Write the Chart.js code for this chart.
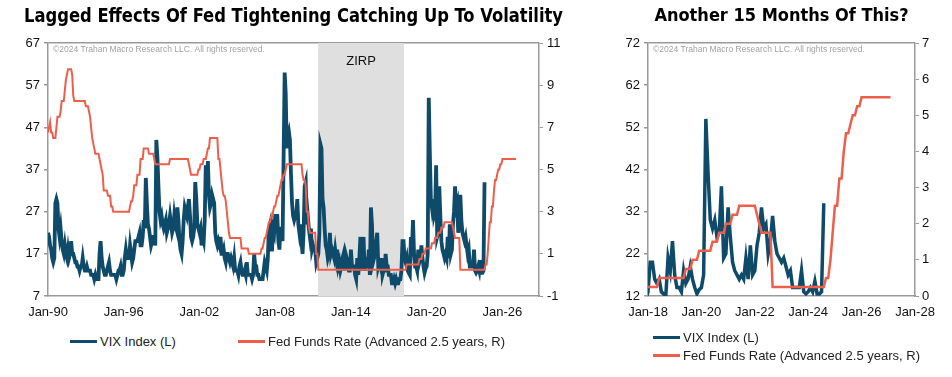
<!DOCTYPE html>
<html>
<head>
<meta charset="utf-8">
<script src="https://cdn.jsdelivr.net/npm/chart.js@4.4.1/dist/chart.umd.min.js"></script>
<style>
  body { margin: 0; background: #fff; }
  #wrap { position: relative; width: 952px; height: 377px; overflow: hidden; }
  canvas { position: absolute; top: 0; }
  .item { position: absolute; height: 16px; display: flex; align-items: center;
          font: 13px "Liberation Sans", Arial, sans-serif; color: #222; white-space: nowrap; }
  .swatch { display: inline-block; width: 27px; height: 3px; margin-right: 3px; }
</style>
</head>
<body>
<div id="wrap">
  <canvas id="left" width="567" height="330" style="left:0"></canvas>
  <canvas id="right" width="352" height="330" style="left:600px"></canvas>

  <div class="item" style="left:70px; top:333px"><span class="swatch" style="background:#0e4a69"></span>VIX Index (L)</div>
  <div class="item" style="left:238px; top:333px"><span class="swatch" style="background:#ee5e4b"></span>Fed Funds Rate (Advanced 2.5 years, R)</div>
  <div class="item" style="left:653px; top:329px"><span class="swatch" style="background:#0e4a69"></span>VIX Index (L)</div>
  <div class="item" style="left:653px; top:347px"><span class="swatch" style="background:#ee5e4b"></span>Fed Funds Rate (Advanced 2.5 years, R)</div>
</div>

<script>
// VIX index, monthly, Jan 1990 .. Aug 2024
const vixStart = 1990;
const vix1990s = [
  22, 21, 19, 18, 16, 15, 16, 29, 30, 29, 23, 21,
  23, 20, 18, 17, 19, 17, 16, 18, 16, 17, 20, 17,
  17, 16, 15, 15, 14, 14, 13, 14, 14, 16, 14, 13,
  13, 14, 13, 13, 13, 12, 12, 12, 11, 12, 11, 11,
  11, 17, 20, 16, 14, 13, 12, 12, 13, 14, 15, 13,
  12, 12, 12, 12, 12, 11, 12, 13, 13, 14, 12, 12,
  13, 16, 18, 16, 16, 16, 19, 17, 15, 16, 18, 20,
  20, 20, 21, 22, 19, 19, 21, 25, 23, 35, 29, 24,
  23, 21, 19, 20, 21, 21, 19, 44, 40, 33, 27, 25,
  26, 24, 23, 24, 25, 22, 23, 24, 26, 24, 22, 23
];
const vix2000s = [
  26, 24, 23, 28, 25, 20, 18, 17, 20, 25, 28, 27,
  26, 28, 30, 26, 21, 20, 21, 23, 34, 30, 24, 23,
  22, 23, 19, 21, 20, 25, 38, 32, 39, 31, 28, 29,
  31, 30, 29, 22, 20, 19, 20, 19, 21, 17, 17, 18,
  16, 15, 17, 17, 16, 15, 16, 15, 14, 16, 13, 13,
  13, 12, 14, 15, 13, 12, 12, 13, 12, 15, 12, 12,
  12, 12, 11, 12, 17, 14, 14, 12, 12, 11, 11, 11,
  11, 13, 15, 14, 13, 16, 23, 24, 18, 18, 23, 22,
  26, 26, 26, 20, 18, 23, 23, 20, 40, 60, 55, 42,
  45, 46, 44, 36, 29, 26, 25, 26, 26, 30, 24, 22
];
const vix2010s = [
  24, 20, 17, 22, 33, 34, 24, 26, 23, 21, 23, 18,
  19, 18, 18, 15, 16, 17, 22, 43, 42, 30, 28, 23,
  19, 18, 16, 17, 22, 17, 18, 17, 16, 18, 16, 18,
  14, 15, 13, 14, 16, 17, 13, 17, 16, 14, 13, 13,
  18, 14, 14, 14, 12, 11, 16, 12, 16, 21, 13, 19,
  21, 13, 15, 14, 14, 18, 12, 28, 24, 15, 16, 18,
  20, 22, 14, 15, 14, 16, 12, 13, 13, 17, 14, 14,
  12, 12, 12, 10, 10, 11, 10, 11, 10, 10, 11, 11,
  13, 20, 20, 16, 15, 16, 13, 12.5, 12, 21, 18, 25,
  17, 14, 14, 13, 18, 15, 16, 19, 16, 14, 12.5, 13.5
];
const vix2020s = [
  14, 17, 54, 41, 30, 28, 30, 26, 27, 38, 21, 22,
  33, 26, 20, 18, 17, 16, 17, 16, 21, 16, 24, 17,
  18, 24, 27, 33, 28, 29, 22, 25, 31, 25, 22, 21,
  20, 21, 19, 17, 18, 14, 14, 14, 14, 18, 13, 12.5,
  13, 14, 13, 15.5, 12.5, 12.5, 13, 34
];

// Fed funds target (upper bound), monthly Jul 1987 .. Aug 2024, plotted 2.5 years ahead
const fedStart = 1990;
const fed1980s = [
  6.75, 7, 7.25, 6.75, 6.75, 6.5,
  6.5, 6.5, 7, 7.5, 7.5, 7.5, 7.75, 8.25, 8.25, 8.25, 8.75, 9.25,
  9.5, 9.75, 9.75, 9.75, 9.75, 9.5, 8.5, 8.25, 8.25, 8.25, 8.25, 8.25
];
const fed1990s = [
  8.25, 8.25, 8.25, 8.25, 8.25, 8.25, 8, 8, 8, 7.75, 7.5, 7,
  6.5, 6.25, 6, 5.75, 5.75, 5.75, 5.75, 5.5, 5.25, 5, 4.75, 4,
  4, 4, 4, 3.75, 3.75, 3.75, 3.25, 3.25, 3, 3, 3, 3,
  3, 3, 3, 3, 3, 3, 3, 3, 3, 3, 3, 3,
  3.25, 3.5, 3.5, 3.75, 4.25, 4.25, 4.25, 4.75, 4.75, 4.75, 5.5, 5.5,
  5.5, 6, 6, 6, 6, 6, 5.75, 5.75, 5.75, 5.75, 5.75, 5.5,
  5.25, 5.25, 5.25, 5.25, 5.25, 5.25, 5.25, 5.25, 5.25, 5.25, 5.25, 5.25,
  5.25, 5.25, 5.5, 5.5, 5.5, 5.5, 5.5, 5.5, 5.5, 5.5, 5.5, 5.5,
  5.5, 5.5, 5.5, 5.5, 5.5, 5.5, 5.5, 5.5, 5.25, 5, 4.75, 4.75,
  4.75, 4.75, 4.75, 4.75, 4.75, 5, 5, 5.25, 5.25, 5.25, 5.5, 5.5
];
const fed2000s = [
  5.5, 5.75, 6, 6, 6.5, 6.5, 6.5, 6.5, 6.5, 6.5, 6.5, 6.5,
  5.5, 5.5, 5, 4.5, 4, 3.75, 3.75, 3.5, 3, 2.5, 2, 1.75,
  1.75, 1.75, 1.75, 1.75, 1.75, 1.75, 1.75, 1.75, 1.75, 1.75, 1.25, 1.25,
  1.25, 1.25, 1.25, 1.25, 1.25, 1, 1, 1, 1, 1, 1, 1,
  1, 1, 1, 1, 1, 1.25, 1.25, 1.5, 1.75, 1.75, 2, 2.25,
  2.5, 2.5, 2.75, 2.75, 3, 3.25, 3.25, 3.5, 3.75, 3.75, 4, 4.25,
  4.5, 4.5, 4.75, 4.75, 5, 5.25, 5.25, 5.25, 5.25, 5.25, 5.25, 5.25,
  5.25, 5.25, 5.25, 5.25, 5.25, 5.25, 5.25, 5.25, 4.75, 4.5, 4.5, 4.25,
  3, 3, 2.25, 2, 2, 2, 2, 2, 2, 1, 1, 0.25,
  0.25, 0.25, 0.25, 0.25, 0.25, 0.25, 0.25, 0.25, 0.25, 0.25, 0.25, 0.25
];
const fed2010s = [
  0.25, 0.25, 0.25, 0.25, 0.25, 0.25, 0.25, 0.25, 0.25, 0.25, 0.25, 0.25,
  0.25, 0.25, 0.25, 0.25, 0.25, 0.25, 0.25, 0.25, 0.25, 0.25, 0.25, 0.25,
  0.25, 0.25, 0.25, 0.25, 0.25, 0.25, 0.25, 0.25, 0.25, 0.25, 0.25, 0.25,
  0.25, 0.25, 0.25, 0.25, 0.25, 0.25, 0.25, 0.25, 0.25, 0.25, 0.25, 0.25,
  0.25, 0.25, 0.25, 0.25, 0.25, 0.25, 0.25, 0.25, 0.25, 0.25, 0.25, 0.25,
  0.25, 0.25, 0.25, 0.25, 0.25, 0.25, 0.25, 0.25, 0.25, 0.25, 0.25, 0.5,
  0.5, 0.5, 0.5, 0.5, 0.5, 0.5, 0.5, 0.5, 0.5, 0.5, 0.5, 0.75,
  0.75, 0.75, 1, 1, 1, 1.25, 1.25, 1.25, 1.25, 1.25, 1.25, 1.5,
  1.5, 1.5, 1.75, 1.75, 1.75, 2, 2, 2, 2.25, 2.25, 2.25, 2.5,
  2.5, 2.5, 2.5, 2.5, 2.5, 2.5, 2.5, 2.25, 2, 1.75, 1.75, 1.75
];
const fed2020s = [
  1.75, 1.75, 0.25, 0.25, 0.25, 0.25, 0.25, 0.25, 0.25, 0.25, 0.25, 0.25,
  0.25, 0.25, 0.25, 0.25, 0.25, 0.25, 0.25, 0.25, 0.25, 0.25, 0.25, 0.25,
  0.25, 0.25, 0.5, 0.5, 1, 1.75, 2.5, 2.5, 3.25, 3.25, 4, 4.5,
  4.5, 4.75, 5, 5, 5.25, 5.25, 5.5, 5.5, 5.5, 5.5, 5.5, 5.5,
  5.5, 5.5, 5.5, 5.5, 5.5, 5.5, 5.5, 5.5
];

// Zero interest rate period (shifted like the fed series)
const zirpStart = 2011.4;
const zirpEnd = 2018.2;
const zirpLabel = 'ZIRP';

// Axis ticks
const leftXTicks = [1990, 1996, 2002, 2008, 2014, 2020, 2026];
const leftXMax = 2028.9;
const leftYTicks = [7, 17, 27, 37, 47, 57, 67];
const leftY2Ticks = [-1, 1, 3, 5, 7, 9, 11];
const rightXTicks = [2018, 2020, 2022, 2024, 2026, 2028];
const rightYTicks = [12, 22, 32, 42, 52, 62, 72];
const rightY2Ticks = [0, 1, 2, 3, 4, 5, 6, 7];

const copyright = '\u00a92024 Trahan Macro Research LLC. All rights reserved.';

const VIX_COLOR = '#0e4a69';
const FED_COLOR = '#ee5e4b';
const AXIS_COLOR = '#9a9a9a';
const FONT = "'Liberation Sans', Arial, sans-serif";
const TITLE_FONT = "'Liberation Sans Narrow', 'Arial Narrow', 'DejaVu Sans Condensed', 'Liberation Sans', sans-serif";

const monthly = (start, values) => values.map((v, i) => ({ x: start + i / 12, y: v }));
const vixPoints = monthly(vixStart, [...vix1990s, ...vix2000s, ...vix2010s, ...vix2020s]);
const fedPoints = monthly(fedStart, [...fed1980s, ...fed1990s, ...fed2000s, ...fed2010s, ...fed2020s]);

// Draws the copyright line and the ZIRP label inside the plot
const notesPlugin = {
  id: 'notes',
  afterDatasetsDraw(chart, args, opts) {
    const { ctx, chartArea, scales } = chart;
    ctx.save();
    ctx.textBaseline = 'middle';
    ctx.fillStyle = '#a3a3a3';
    ctx.font = '8.5px ' + FONT;
    ctx.textAlign = 'left';
    ctx.fillText(copyright, chartArea.left + 5, chartArea.top + 7);
    if (opts.zirp) {
      ctx.fillStyle = '#111';
      ctx.font = '13px ' + FONT;
      ctx.textAlign = 'center';
      ctx.fillText(zirpLabel, scales.x.getPixelForValue((zirpStart + zirpEnd) / 2), chartArea.top + 18);
    }
    ctx.restore();
  }
};

const fixedTicks = (values) => (axis) => { axis.ticks = values.map(v => ({ value: v })); };
const fixedWidth = (w) => (axis) => { axis.width = w; };

function makeChart(id, cfg) {
  const datasets = [
    {
      label: 'VIX Index (L)',
      data: vixPoints,
      borderColor: VIX_COLOR,
      borderWidth: cfg.vixWidth,
      pointRadius: 0,
      yAxisID: 'y',
      order: 2,
    },
    {
      label: 'Fed Funds Rate (Advanced 2.5 years, R)',
      data: fedPoints,
      borderColor: FED_COLOR,
      borderWidth: cfg.fedWidth,
      pointRadius: 0,
      yAxisID: 'y1',
      order: 1,
    },
  ];
  if (cfg.zirp) {
    // shaded band, filled down to the bottom of the left scale
    datasets.push({
      label: zirpLabel,
      data: [{ x: zirpStart, y: cfg.yTicks[cfg.yTicks.length - 1] }, { x: zirpEnd, y: cfg.yTicks[cfg.yTicks.length - 1] }],
      borderWidth: 0,
      pointRadius: 0,
      backgroundColor: '#dfdfdf',
      fill: 'start',
      yAxisID: 'y',
      order: 3,
    });
  }

  const tickFont = { family: FONT, size: 13 };
  const yTop = cfg.yTicks[cfg.yTicks.length - 1];

  return new Chart(document.getElementById(id), {
    type: 'line',
    data: { datasets },
    options: {
      responsive: false,
      animation: false,
      devicePixelRatio: 1,
      events: [],
      // side padding sets the width of the title box (the long title is fitted into it)
      layout: { padding: { left: cfg.padLeft, right: cfg.padRight } },
      scales: {
        x: {
          type: 'linear',
          min: cfg.xTicks[0],
          max: cfg.xMax,
          afterBuildTicks: fixedTicks(cfg.xTicks),
          afterFit: (axis) => { axis.height = 34; },
          grid: { display: false, drawTicks: false },
          border: { color: AXIS_COLOR, width: 1.5 },
          ticks: {
            padding: 9,
            autoSkip: false,
            maxRotation: 0,
            color: '#111',
            font: tickFont,
            callback: (v) => 'Jan-' + String(v).slice(2),
          },
        },
        y: {
          type: 'linear',
          position: 'left',
          min: cfg.yTicks[0],
          max: yTop,
          afterBuildTicks: fixedTicks(cfg.yTicks),
          afterFit: fixedWidth(48 - cfg.padLeft),
          grid: {
            color: (c) => (c.tick && c.tick.value === yTop ? AXIS_COLOR : 'rgba(0,0,0,0)'),
            tickColor: AXIS_COLOR,
            tickLength: 4,
            lineWidth: 1.5,
          },
          border: { color: AXIS_COLOR, width: 1.5 },
          ticks: { padding: 4, color: '#111', font: tickFont },
        },
        y1: {
          type: 'linear',
          position: 'right',
          min: cfg.y2Ticks[0],
          max: cfg.y2Ticks[cfg.y2Ticks.length - 1],
          afterBuildTicks: fixedTicks(cfg.y2Ticks),
          afterFit: fixedWidth(cfg.rightWidth - cfg.padRight),
          grid: { drawOnChartArea: false, tickColor: AXIS_COLOR, tickLength: 4 },
          border: { color: AXIS_COLOR, width: 1.5 },
          ticks: { padding: cfg.rightPad, color: '#111', font: tickFont },
        },
      },
      plugins: {
        legend: { display: false },
        tooltip: { enabled: false },
        title: {
          display: true,
          text: cfg.title,
          fullSize: cfg.titleFull,
          color: '#000',
          font: { family: TITLE_FONT, size: cfg.titleSize, weight: 'bold', lineHeight: '23px' },
          padding: { top: 5, bottom: 15 },
        },
        notes: { zirp: cfg.zirp },
      },
    },
    plugins: [notesPlugin],
  });
}

makeChart('left', {
  title: 'Lagged Effects Of Fed Tightening Catching Up To Volatility',
  titleSize: 20,
  titleFull: true,
  padLeft: 24,
  padRight: 4,
  xTicks: leftXTicks,
  xMax: leftXMax,
  yTicks: leftYTicks,
  y2Ticks: leftY2Ticks,
  rightWidth: 28,
  rightPad: 4,
  vixWidth: 3.8,
  fedWidth: 2,
  zirp: true,
});

makeChart('right', {
  title: 'Another 15 Months Of This?',
  titleSize: 18,
  titleFull: false,
  padLeft: 0,
  padRight: 0,
  xTicks: rightXTicks,
  xMax: rightXTicks[rightXTicks.length - 1],
  yTicks: rightYTicks,
  y2Ticks: rightY2Ticks,
  rightWidth: 37,
  rightPad: 3,
  vixWidth: 3.5,
  fedWidth: 2.5,
  zirp: false,
});
</script>
</body>
</html>
